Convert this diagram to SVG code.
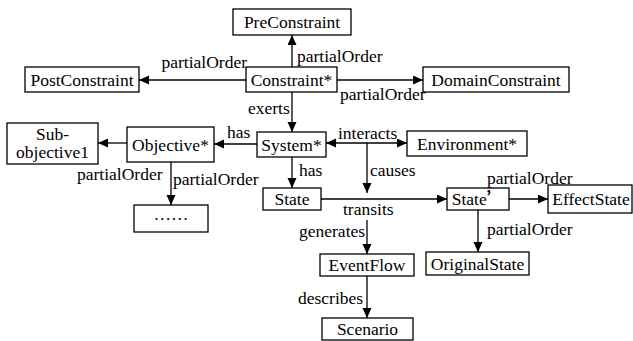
<svg xmlns="http://www.w3.org/2000/svg" width="633" height="341" viewBox="0 0 633 341" font-family="'Liberation Serif', 'Times New Roman', serif" font-size="17.5">
<style>
.box{fill:#fff;stroke:#000;stroke-width:1.3}
text{font-family:'Liberation Serif','Times New Roman',serif;font-size:17.5px;fill:#000}
.c{text-anchor:middle}
.e{stroke:#000;stroke-width:1.3;fill:none;marker-end:url(#ah)}
</style>
<defs>
<marker id="ah" markerUnits="userSpaceOnUse" markerWidth="11" markerHeight="10" refX="10" refY="4.5" orient="auto-start-reverse">
<path d="M0,0 L10,4.5 L0,9 z" fill="#000"/>
</marker>
</defs>
<rect width="633" height="341" fill="#fff"/>
<g id="connectors">
<line class="e" x1="292" y1="67" x2="292" y2="35"/>
<line class="e" x1="246" y1="80" x2="139" y2="80"/>
<line class="e" x1="337" y1="80" x2="423" y2="80"/>
<line class="e" x1="292" y1="92" x2="292" y2="132"/>
<line class="e" x1="257" y1="144" x2="214" y2="144"/>
<line class="e" x1="127" y1="143" x2="98" y2="143"/>
<line class="e" x1="171" y1="162" x2="171" y2="205"/>
<line class="e" x1="326" y1="143" x2="407" y2="143" style="marker-start:url(#ah)"/>
<line class="e" x1="367" y1="143" x2="367" y2="193"/>
<line class="e" x1="292" y1="157" x2="292" y2="188"/>
<line class="e" x1="321" y1="199" x2="447" y2="199"/>
<line class="e" x1="509" y1="199" x2="548" y2="199"/>
<line class="e" x1="478" y1="210" x2="478" y2="252"/>
<line class="e" x1="367" y1="220" x2="367" y2="254"/>
<line class="e" x1="367" y1="276" x2="367" y2="318"/>
<text x="247" y="68" text-anchor="end">partialOrder</text>
<text x="297" y="62">partialOrder</text>
<text x="340" y="100">partialOrder</text>
<text x="248" y="114">exerts</text>
<text x="227" y="138">has</text>
<text x="77" y="180">partialOrder</text>
<text x="173" y="185">partialOrder</text>
<text x="299" y="176">has</text>
<text x="338" y="139">interacts</text>
<text x="370" y="176">causes</text>
<text x="343" y="215">transits</text>
<text x="487" y="184">partialOrder</text>
<text x="487" y="235">partialOrder</text>
<text x="299" y="237">generates</text>
<text x="298" y="304">describes</text>
</g>
<g id="PreConstraint"><rect class="box" x="233" y="9" width="118" height="26"/><text class="c" x="292" y="28">PreConstraint</text></g>
<g id="Constraint"><rect class="box" x="246" y="67" width="91" height="25"/><text class="c" x="291.5" y="86">Constraint*</text></g>
<g id="PostConstraint"><rect class="box" x="25" y="67" width="114" height="25"/><text class="c" x="82" y="86">PostConstraint</text></g>
<g id="DomainConstraint"><rect class="box" x="423" y="67" width="146" height="25"/><text class="c" x="496" y="86">DomainConstraint</text></g>
<g id="System"><rect class="box" x="257" y="132" width="69" height="25"/><text class="c" x="291.5" y="151">System*</text></g>
<g id="Objective"><rect class="box" x="127" y="127" width="87" height="35"/><text class="c" x="170.5" y="151">Objective*</text></g>
<g id="SubObjective1"><rect class="box" x="7" y="123" width="91" height="41"/><text class="c" x="52.5" y="140">Sub-</text><text class="c" x="52.5" y="158">objective1</text></g>
<g id="Ellipsis"><rect class="box" x="134" y="205" width="74" height="27"/><text class="c" x="171" y="220">……</text></g>
<g id="Environment"><rect class="box" x="407" y="131" width="120" height="25"/><text class="c" x="467" y="150">Environment*</text></g>
<g id="State"><rect class="box" x="263" y="188" width="58" height="22"/><text class="c" x="292" y="205">State</text></g>
<g id="StatePrime"><rect class="box" x="447" y="188" width="62" height="22"/><text class="c" x="478" y="205">State<tspan style="font-family:'Noto Sans CJK SC',sans-serif;font-weight:bold">’</tspan></text></g>
<g id="EffectState"><rect class="box" x="548" y="185" width="84" height="28"/><text class="c" x="591" y="205">EffectState</text></g>
<g id="OriginalState"><rect class="box" x="426" y="252" width="103" height="23"/><text class="c" x="477.5" y="270">OriginalState</text></g>
<g id="EventFlow"><rect class="box" x="320" y="254" width="94" height="22"/><text class="c" x="367" y="271">EventFlow</text></g>
<g id="Scenario"><rect class="box" x="322" y="318" width="91" height="22"/><text class="c" x="367.5" y="335">Scenario</text></g>
</svg>
